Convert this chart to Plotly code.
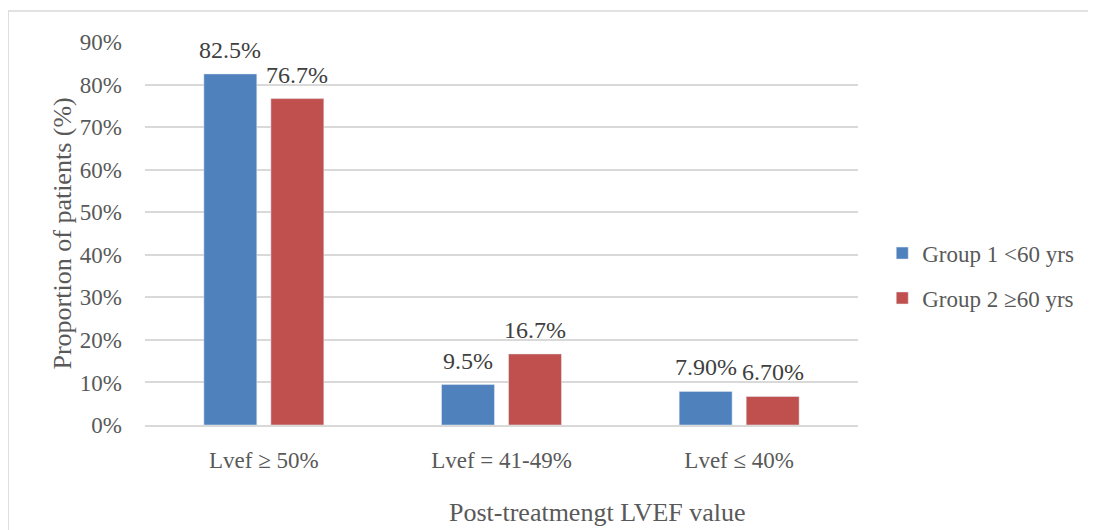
import plotly.graph_objects as go

categories = ['Lvef \u2265 50%', 'Lvef = 41-49%', 'Lvef \u2264 40%']
group1 = [82.5, 9.5, 7.9]
group2 = [76.7, 16.7, 6.7]
group1_labels = ['82.5%', '9.5%', '7.90%']
group2_labels = ['76.7%', '16.7%', '6.70%']
y_ticks = [0, 10, 20, 30, 40, 50, 60, 70, 80, 90]
y_ticktext = [f'{v}%' for v in y_ticks]

font_family = 'Liberation Serif'
txt_col = '#595959'

fig = go.Figure()

fig.add_trace(go.Bar(x=categories, y=group1, name='Group 1 <60 yrs',
                     legendgroup='g1', marker=dict(color='#4F81BD')))
fig.add_trace(go.Bar(x=categories, y=group2, name='Group 2 \u226560 yrs',
                     legendgroup='g2', marker=dict(color='#C0504D')))

# data labels, a bit further above the bars than plotly's own outside text
for vals, labels, dx in [(group1, group1_labels, -33.5), (group2, group2_labels, 33.5)]:
    for cat, v, lab in zip(categories, vals, labels):
        fig.add_annotation(x=cat, y=v, text=lab, showarrow=False,
                           xanchor='center', yanchor='bottom',
                           xshift=dx, yshift=9,
                           font=dict(size=24, color='#404040', family=font_family))

# page body adds an 8px offset, so the figure is sized/margined to compensate
fig.update_layout(
    width=1088, height=522,
    margin=dict(l=137, r=238, t=34, b=105, autoexpand=False),
    barmode='group',
    bargap=0.436,
    bargroupgap=0.21,
    plot_bgcolor='white',
    paper_bgcolor='white',
    font=dict(family=font_family, color=txt_col, size=23),
    legend=dict(x=1.034, y=0.39, yanchor='middle', xanchor='left',
                font=dict(size=23, color=txt_col),
                itemwidth=30, tracegroupgap=12),
    showlegend=True,
)

fig.update_yaxes(range=[0, 90], tickvals=y_ticks, ticktext=y_ticktext,
                 showgrid=True, gridcolor='#D9D9D9', gridwidth=1.5,
                 zeroline=False, showline=False, ticks='',
                 ticklabelstandoff=22, automargin=False,
                 tickfont=dict(size=23, color=txt_col))
fig.update_xaxes(showline=True, linecolor='#D9D9D9', linewidth=1.5,
                 ticks='', ticklabelstandoff=14, automargin=False,
                 tickfont=dict(size=23, color=txt_col))

# axis titles placed as in the original
fig.add_annotation(text='Proportion of patients (%)', xref='paper', yref='paper',
                   x=-0.1164, y=0.5, xanchor='center', yanchor='middle',
                   textangle=-90, showarrow=False,
                   font=dict(size=26, color=txt_col))
fig.add_annotation(text='Post-treatmengt LVEF value', xref='paper', yref='paper',
                   x=0.634, y=-0.228, xanchor='center', yanchor='middle',
                   showarrow=False, font=dict(size=26, color=txt_col))

# outer chart border
fig.add_shape(type='rect', xref='paper', yref='paper',
              x0=-0.192, x1=1.5, y0=-0.5, y1=1.081,
              line=dict(color='#D9D9D9', width=1.5), fillcolor='rgba(0,0,0,0)',
              layer='below')

fig.write_html('out.html')
